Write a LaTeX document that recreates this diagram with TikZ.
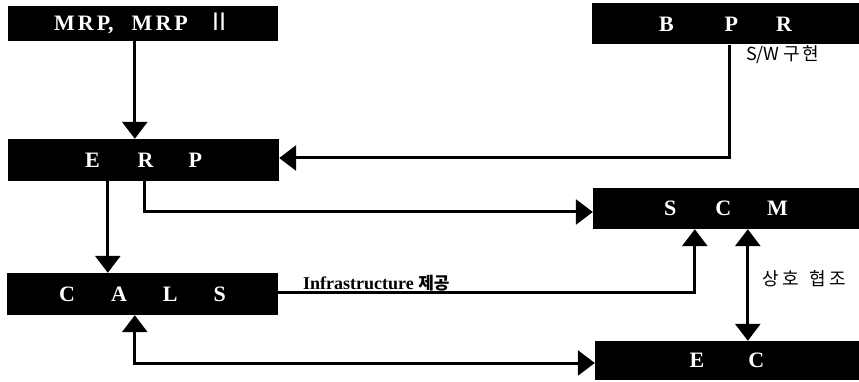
\documentclass[tikz,border=0pt]{standalone}
\usepackage{fontspec}
\setmainfont{Liberation Serif}
\newfontfamily\kr{Noto Sans CJK KR}
\usetikzlibrary{arrows.meta}
\begin{document}
\begin{tikzpicture}[x=1pt,y=-1pt,
  box/.style={fill=black, draw=none, inner sep=0pt, text=white,
    font=\fontsize{22}{26}\selectfont\bfseries},
  conn/.style={line width=3pt, -{Triangle[length=17pt,width=25pt]}},
  biconn/.style={line width=3pt, {Triangle[length=17pt,width=25pt]}-{Triangle[length=17pt,width=25pt]}},
  lbl/.style={inner sep=0pt, anchor=west}
]
\useasboundingbox (0,0) rectangle (859,382);

% boxes
\node[box, minimum width=270pt, minimum height=35pt] (mrp) at (143,23.5)
  {M\kern3pt R\kern3pt P,\kern18pt M\kern3pt R\kern3pt P\kern20pt{\kr\mdseries\fontsize{24}{26}\selectfont Ⅱ}};
\node[box, minimum width=267pt, minimum height=41pt] (bpr) at (725.5,24)
  {B\hspace{51pt}P\hspace{38pt}R};
\node[box, minimum width=271pt, minimum height=42pt] (erp) at (143.5,160)
  {E\hspace{38pt}R\hspace{35pt}P};
\node[box, minimum width=266pt, minimum height=41pt] (scm) at (726,208.5)
  {S\hspace{39pt}C\hspace{36pt}M};
\node[box, minimum width=271pt, minimum height=42pt] (cals) at (142.5,294)
  {C\hspace{36pt}A\hspace{36pt}L\hspace{36pt}S};
\node[box, minimum width=264pt, minimum height=39pt] (ec) at (727,360.5)
  {E\hspace{44pt}C};

% connectors
\draw[conn] ([xshift=127pt]mrp.south west) -- ([xshift=127pt]erp.north west);
\draw[conn] ([xshift=138pt]bpr.south west) |- ([yshift=2pt]erp.east);
\draw[conn] ([xshift=100pt]erp.south west) -- ([xshift=101pt]cals.north west);
\draw[conn] ([xshift=137pt]erp.south west) |- ([yshift=-3.5pt]scm.west);
\draw[conn] ([yshift=2pt]cals.east) -| ([xshift=102pt]scm.south west);
\draw[biconn] ([xshift=155pt]scm.south west) -- ([xshift=153pt]ec.north west);
\draw[biconn] ([xshift=128pt]cals.south west) |- ([yshift=-2.5pt]ec.west);

% labels
\node[lbl, font=\kr\fontsize{18}{20}\selectfont] (sw) at (746,55)
  {S/W\kern4pt 구\kern2pt 현};
\node[lbl, font=\kr\fontsize{18}{20}\selectfont] (coop) at (762,279)
  {상\kern4pt 호\kern10pt 협\kern4pt 조};
\node[lbl, font=\fontsize{18}{21}\selectfont\bfseries] (infra) at (303,283)
  {Infrastructure {\kr\fontsize{17}{20}\selectfont 제공}};
\end{tikzpicture}
\end{document}
